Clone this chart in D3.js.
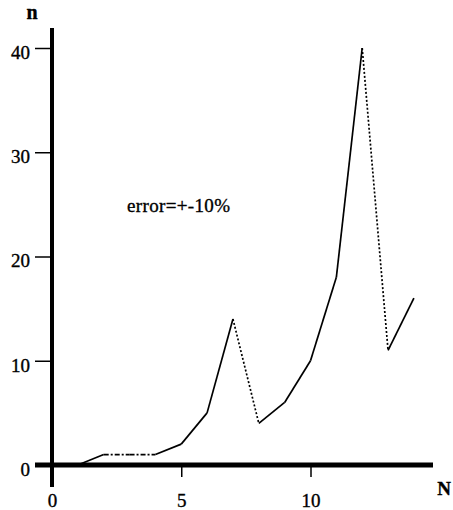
<!DOCTYPE html>
<html>
<head>
<meta charset="utf-8">
<script src="https://cdn.jsdelivr.net/npm/d3@7"></script>
<style>
  body { margin: 0; background: #fff; }
  svg text { font-family: 'Liberation Serif', 'Times New Roman', Times, serif !important; fill: #000; stroke: #000; stroke-width: 0.35px; }
</style>
</head>
<body>
<svg id="chart" width="453" height="510"></svg>
<script>
// values
var nValues = [0, 1, 2, 3, 4, 5, 6, 7, 8, 9, 10, 11, 12, 13, 14];
var counts = [0, 0, 1, 1, 1, 2, 5, 14, 4, 6, 10, 18, 40, 11, 16];
var yTicks = [0, 10, 20, 30, 40];
var xTicks = [0, 5, 10];
var note = 'error=+-10%';

// segments that look dotted in the scan (index of first point)
var dotted = [7, 12];
var dashDot = [2, 3];

var serif = "'Liberation Serif', 'Times New Roman', Times, serif";

var svg = d3.select('#chart');

var x = d3.scaleLinear().domain([0, 10]).range([52, 310.5]);
var y = d3.scaleLinear().domain([0, 40]).range([465, 48]);

// y axis ticks + labels
var yAxis = svg.append('g')
    .attr('transform', 'translate(52,0)')
    .call(d3.axisLeft(y).tickValues(yTicks).tickSize(17).tickPadding(5))
    .attr('font-family', serif);
yAxis.select('.domain').remove();
yAxis.selectAll('line').attr('stroke', '#000').attr('stroke-width', 1.5);
yAxis.selectAll('text')
    .attr('font-size', 19)
    .attr('dy', '0.55em');

// x axis ticks + labels
var xAxis = svg.append('g')
    .attr('transform', 'translate(0,465)')
    .call(d3.axisBottom(x).tickValues(xTicks).tickSize(12).tickPadding(17))
    .attr('font-family', serif);
xAxis.select('.domain').remove();
xAxis.selectAll('line').attr('stroke', '#000').attr('stroke-width', 1.5);
xAxis.selectAll('text')
    .attr('font-size', 19);

// thick axis lines
svg.append('line')
    .attr('x1', x(0)).attr('x2', x(0))
    .attr('y1', 28).attr('y2', 487)
    .attr('stroke', '#000').attr('stroke-width', 4);
svg.append('line')
    .attr('x1', 35).attr('x2', 433)
    .attr('y1', y(0)).attr('y2', y(0))
    .attr('stroke', '#000').attr('stroke-width', 5);

// data line, drawn segment by segment
var pts = nValues.map(function (d, i) { return [d, counts[i]]; });
var segs = d3.pairs(pts);
svg.append('g').selectAll('line')
  .data(segs)
  .enter()
  .append('line')
  .attr('x1', function (d) { return x(d[0][0]); })
  .attr('y1', function (d) { return y(d[0][1]); })
  .attr('x2', function (d) { return x(d[1][0]); })
  .attr('y2', function (d) { return y(d[1][1]); })
  .attr('stroke', '#000')
  .attr('stroke-width', 1.7)
  .attr('stroke-dasharray', function (d, i) {
    if (dotted.indexOf(i) >= 0) return '2,2';
    if (dashDot.indexOf(i) >= 0) return '5,2,2,2';
    return null;
  });

// axis names
svg.append('text')
    .attr('x', 32).attr('y', 19)
    .attr('text-anchor', 'middle')
    .attr('font-size', 20).attr('font-weight', 'bold')
    .text('n');
svg.append('text')
    .attr('x', 444).attr('y', 495)
    .attr('text-anchor', 'middle')
    .attr('font-size', 19).attr('font-weight', 'bold')
    .text('N');

svg.append('text')
    .attr('x', 127).attr('y', 212)
    .attr('font-size', 19)
    .attr('textLength', 103)
    .text(note);
</script>
</body>
</html>
